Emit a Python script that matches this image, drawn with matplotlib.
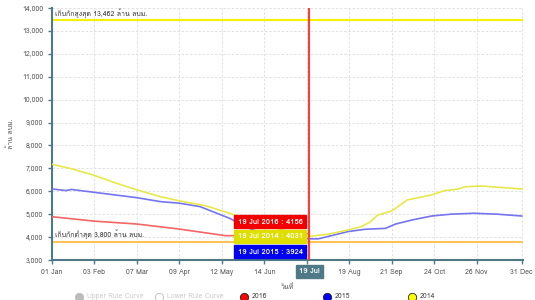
import matplotlib
matplotlib.use("Agg")
import matplotlib.pyplot as plt
from matplotlib import font_manager
from matplotlib.ft2font import FT2Font
from matplotlib.lines import Line2D

# --- data (day of year 2016, million m3) ---
days_2016 = [0, 32, 66, 99, 135, 160, 185, 200]
vals_2016 = [4890, 4700, 4570, 4350, 4060, 4080, 4120, 4156]

days_2015 = [0, 11, 15, 32, 66, 84, 99, 115, 125, 138, 151, 158, 180, 200, 207,
             230, 243, 259, 267, 280, 295, 310, 328, 346, 365]
vals_2015 = [6100, 6030, 6080, 5960, 5720, 5550, 5480, 5330, 5110, 4820, 4430, 4280, 4050, 3924, 3924,
             4240, 4340, 4380, 4570, 4750, 4920, 5000, 5040, 5000, 4920]

days_2014 = [0, 16, 32, 48, 66, 84, 99, 120, 138, 160, 180, 200, 215, 230, 240,
             247, 253, 264, 276, 295, 305, 315, 321, 334, 365]
vals_2014 = [7180, 6970, 6710, 6390, 6060, 5770, 5580, 5360, 5040, 4650, 4300, 4031, 4130, 4310, 4450,
             4650, 4960, 5140, 5620, 5840, 6030, 6090, 6200, 6230, 6100]

max_storage = 13462
min_storage = 3800
cursor_day = 200

tick_days = [0, 33, 66, 99, 132, 165, 198, 231, 264, 297, 330, 365]
tick_labels = ["01 Jan", "03 Feb", "07 Mar", "09 Apr", "12 May", "14 Jun", "",
               "19 Aug", "21 Sep", "24 Oct", "26 Nov", "31 Dec"]
y_ticks = list(range(3000, 14001, 1000))

tooltips = [("19 Jul 2016 : 4156", "#f20000", 4660),
            ("19 Jul 2014 : 4031", "#dede00", 4030),
            ("19 Jul 2015 : 3924", "#0000f0", 3350)]


def thai_font():
    for f in font_manager.fontManager.ttflist:
        try:
            if 0x0E01 in FT2Font(f.fname).get_charmap():
                return f.name
        except Exception:
            pass
    return None


th = thai_font()
families = ([th] if th else []) + ["DejaVu Sans"]
plt.rcParams["font.family"] = families

teal = "#4f7986"
fig = plt.figure(figsize=(5.35, 3.0), dpi=100)
ax = fig.add_axes([52 / 535, 1 - 260 / 300, 471 / 535, 252 / 300])

ax.plot(days_2016, vals_2016, color="#f26666", lw=1.2, zorder=3)
ax.plot(days_2015, vals_2015, color="#7474f0", lw=1.2, zorder=3)
ax.plot(days_2014, vals_2014, color="#e8e84a", lw=1.2, zorder=3)
ax.axhline(max_storage, color="#f5f200", lw=1.5, zorder=2)
ax.axhline(min_storage, color="#ffc35a", lw=1.5, zorder=2)
ax.axvline(cursor_day, color="#ff3b3b", lw=1.5, zorder=4)

ax.text(2, max_storage + 120, "เก็บกักสูงสุด 13,462 ล้าน ลบม.", fontsize=5, color="#333333",
        va="bottom", ha="left")
ax.text(2, min_storage + 120, "เก็บกักต่ำสุด 3,800 ล้าน ลบม.", fontsize=5, color="#333333",
        va="bottom", ha="left")

for txt, col, yv in tooltips:
    ax.text(cursor_day - 5, yv, txt, fontsize=5.6, color="white", fontweight="bold",
            ha="right", va="center", zorder=6,
            bbox=dict(boxstyle="square,pad=0.45", fc=col, ec=col))

ax.set_xlim(0, 366)
ax.set_ylim(3000, 14000)
ax.set_xticks(tick_days)
ax.set_xticklabels(tick_labels)
ax.set_yticks(y_ticks)
ax.set_yticklabels([f"{v:,}" for v in y_ticks])
ax.tick_params(axis="both", labelsize=5, labelcolor="#555555", color=teal, length=3, width=1)
ax.grid(True, ls=(0, (3, 2)), color="#dddddd", lw=0.6)
for s in ["top", "right"]:
    ax.spines[s].set_visible(False)
for s in ["left", "bottom"]:
    ax.spines[s].set_color(teal)
    ax.spines[s].set_linewidth(1.5)

ax.text(cursor_day, -0.045, "19 Jul", transform=ax.get_xaxis_transform(), fontsize=5.5,
        color="white", fontweight="bold", ha="center", va="center", zorder=7, clip_on=False,
        bbox=dict(boxstyle="square,pad=0.45", fc=teal, ec=teal))

ax.set_ylabel("ล้าน ลบม.", fontsize=5, color="#555555", labelpad=5)
ax.set_xlabel("วันที่", fontsize=5, color="#555555", labelpad=6)

# legend (bottom, partly cut off like the source)
legend_items = [("Upper Rule Curve", "#bbbbbb", "#bbbbbb", "#cccccc", 79),
                ("Lower Rule Curve", "white", "#bbbbbb", "#cccccc", 159),
                ("2016", "#ff0000", "#222222", "#444444", 244),
                ("2015", "#0000ff", "#222222", "#444444", 327),
                ("2014", "#ffff00", "#222222", "#444444", 412)]
ly = 1 - 297 / 300
for lab, fc, ec, tc, px in legend_items:
    fig.add_artist(Line2D([px / 535], [ly], transform=fig.transFigure, marker="o",
                          markersize=6, markerfacecolor=fc, markeredgecolor=ec, mew=0.6, ls=""))
    fig.text((px + 8) / 535, ly, lab, fontsize=5, color=tc, va="center", ha="left")

fig.savefig("out.png", dpi=100)
